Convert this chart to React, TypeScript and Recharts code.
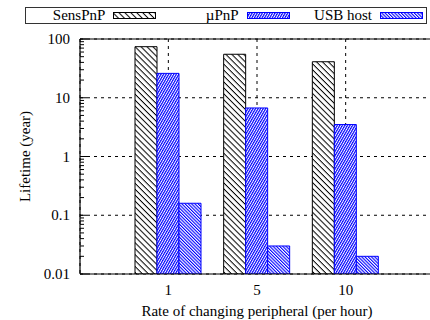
import React from 'react';
import { BarChart, Bar, XAxis, YAxis, CartesianGrid, ReferenceLine, Label } from 'recharts';

// rate of changing peripheral (per hour)
const RATES = ['1', '5', '10'];
// lifetime in years
const SENSPNP = [74, 55, 41];
const UPNP = [26, 6.7, 3.5];
const USB_HOST = [0.16, 0.03, 0.02];

const Y_MAJOR = [0.01, 0.1, 1, 10, 100];
const Y_MINOR_STEPS = [2, 3, 4, 5, 6, 7, 8, 9];

const FONT = 'Liberation Serif, Tinos, DejaVu Serif, serif';

const SERIES = [
  { key: 'senspnp', name: 'SensPnP', pattern: 'hatch-senspnp', stroke: '#000000' },
  { key: 'upnp', name: 'µPnP', pattern: 'hatch-upnp', stroke: '#0000ff' },
  { key: 'usb', name: 'USB host', pattern: 'hatch-usb', stroke: '#0000ff' },
];

const data = RATES.map((rate, i) => ({
  rate,
  senspnp: SENSPNP[i],
  upnp: UPNP[i],
  usb: USB_HOST[i],
}));

const yTicks = [
  ...Y_MAJOR,
  ...Y_MAJOR.slice(0, -1).flatMap((d) => Y_MINOR_STEPS.map((s) => +(d * s).toPrecision(3))),
].sort((a, b) => a - b);

// gnuplot style: ticks point into the plot, labels only on decades
const YTick = ({ x, y, payload }: any) => {
  const major = Y_MAJOR.includes(payload.value);
  return (
    <g>
      <line x1={x} x2={x + (major ? 7 : 4)} y1={y} y2={y} stroke="#000" strokeWidth={1} />
      {major && (
        <text x={x - 10} y={y} textAnchor="end" dominantBaseline="central" style={{ fontFamily: FONT }} fontSize={15} fill="#000">
          {payload.value}
        </text>
      )}
    </g>
  );
};

const Patterns = () => (
  <svg width={0} height={0} style={{ position: 'absolute' }}>
    <defs>
      <pattern id="hatch-senspnp" patternUnits="userSpaceOnUse" width={4.2} height={4.2} patternTransform="rotate(45)">
        <rect width={4.2} height={4.2} fill="#fff" />
        <rect width={4.2} height={1} fill="#000" />
      </pattern>
      <pattern id="hatch-upnp" patternUnits="userSpaceOnUse" width={2.2} height={2.2} patternTransform="rotate(30)">
        <rect width={2.2} height={2.2} fill="#fff" />
        <rect width={1.2} height={2.2} fill="#0000ff" />
      </pattern>
      <pattern id="hatch-usb" patternUnits="userSpaceOnUse" width={2.3} height={2.3} patternTransform="rotate(-45)">
        <rect width={2.3} height={2.3} fill="#fff" />
        <rect width={1.1} height={2.3} fill="#0000ff" />
      </pattern>
    </defs>
  </svg>
);

const ChartLegend = () => (
  <div
    style={{
      position: 'absolute',
      left: 25,
      top: 7,
      width: 400,
      height: 15,
      border: '1px solid #333',
      display: 'flex',
      fontFamily: FONT,
      fontSize: 15,
      lineHeight: '15px',
      background: '#fff',
    }}
  >
    {SERIES.map((s) => (
      <div key={s.key} style={{ width: 134, display: 'flex', justifyContent: 'flex-end', alignItems: 'center', paddingRight: 3, boxSizing: 'border-box' }}>
        <span style={{ marginRight: 8 }}>{s.name}</span>
        <svg width={43} height={7}>
          <rect x={0.5} y={0.5} width={42} height={6} fill={`url(#${s.pattern})`} stroke={s.stroke} strokeWidth={1} />
        </svg>
      </div>
    ))}
  </div>
);

export default function App() {
  return (
    <div style={{ position: 'absolute', left: 0, top: 0, width: 430, height: 320, overflow: 'hidden', background: '#fff', fontFamily: FONT }}>
      <Patterns />
      <BarChart width={440} height={320} data={data} margin={{ top: 39, right: 6, bottom: 0, left: 0 }} barGap={0} barSize={22} style={{ fontFamily: FONT }}>
        <CartesianGrid stroke="#000" strokeDasharray="3 4" horizontalValues={Y_MAJOR} />
        <XAxis
          dataKey="rate"
          height={46}
          padding={{ left: 44, right: 44 }}
          tickLine={false}
          tickSize={0}
          tickMargin={10}
          axisLine={{ stroke: '#000', strokeWidth: 1.2 }}
          tick={{ fill: '#000', fontSize: 15, style: { fontFamily: FONT } }}
        >
          <Label value="Rate of changing peripheral (per hour)" position="insideBottom" offset={4} fill="#000" fontSize={15} style={{ fontFamily: FONT }} />
        </XAxis>
        <YAxis
          scale="log"
          type="number"
          domain={[0.01, 100]}
          ticks={yTicks}
          interval={0}
          allowDataOverflow
          width={80}
          tickLine={false}
          tickSize={0}
          tickMargin={0}
          tick={<YTick />}
          axisLine={{ stroke: '#000', strokeWidth: 1.2 }}
        >
          <Label
            content={({ viewBox }: any) => {
              const cx = viewBox.x + 25;
              const cy = viewBox.y + viewBox.height / 2;
              return (
                <text x={cx} y={cy} transform={`rotate(-90 ${cx} ${cy})`} textAnchor="middle" dominantBaseline="central" style={{ fontFamily: FONT }} fontSize={15} fill="#000">
                  Lifetime (year)
                </text>
              );
            }}
          />
        </YAxis>
        <ReferenceLine y={100} stroke="#000" strokeWidth={1.2} />
        {SERIES.map((s) => (
          <Bar key={s.key} dataKey={s.key} name={s.name} fill={`url(#${s.pattern})`} stroke={s.stroke} strokeWidth={1} isAnimationActive={false} />
        ))}
      </BarChart>
      <ChartLegend />
    </div>
  );
}
